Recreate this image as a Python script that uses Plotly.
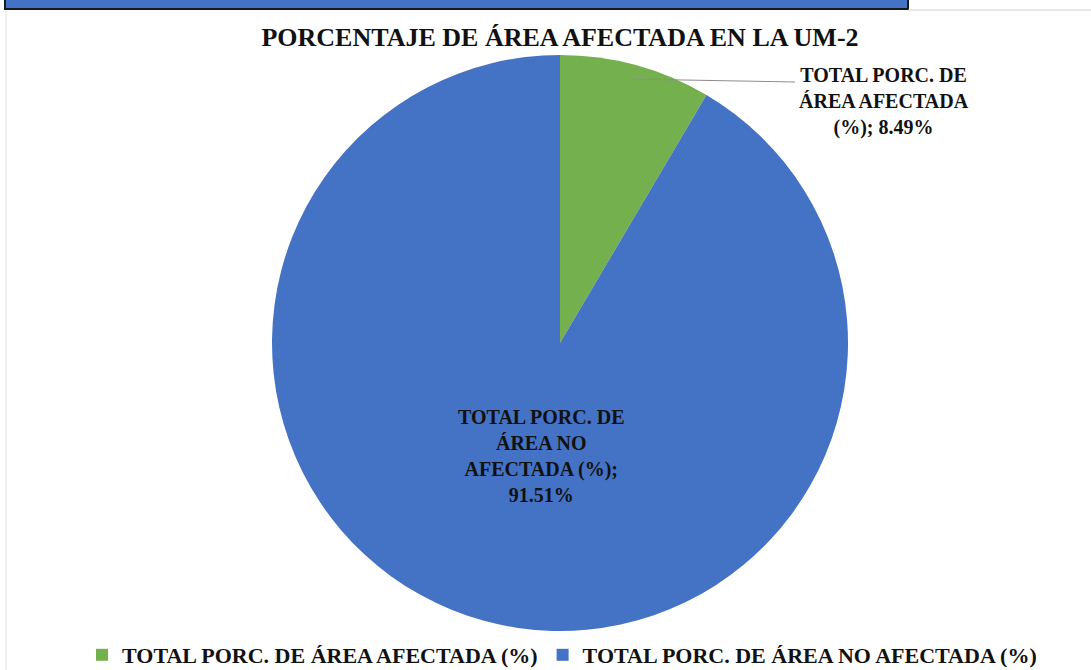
import math

import plotly.graph_objects as go

# data
labels = ["TOTAL PORC. DE ÁREA AFECTADA (%)", "TOTAL PORC. DE ÁREA NO AFECTADA (%)"]
values = [8.49, 91.51]
colors = ["#75B04F", "#4472C4"]
label_lines = [
    ["TOTAL PORC. DE", "ÁREA AFECTADA", "(%); {v:.2f}%"],
    ["TOTAL PORC. DE", "ÁREA NO", "AFECTADA (%);", "{v:.2f}%"],
]

W, H = 1091, 670
cx, cy, r = 560, 343, 288  # pie centre / radius in pixels

serif = "Liberation Serif"


def px(x):
    return x / W


def py(y):
    return 1 - y / H


fig = go.Figure()
fig.add_trace(go.Pie(
    labels=labels,
    values=values,
    sort=False,
    direction="clockwise",
    rotation=0,
    marker=dict(colors=colors, line=dict(width=0)),
    textinfo="none",
    hoverinfo="label+percent",
    domain=dict(x=[px(cx - r), px(cx + r)], y=[py(cy + r), py(cy - r)]),
))

# data labels
texts = ["<br>".join(lines).format(v=v) for lines, v in zip(label_lines, values)]
label_pos = [(884, 101), (541, 456)]
for t, (lx, ly) in zip(texts, label_pos):
    fig.add_annotation(
        x=px(lx), y=py(ly), xref="paper", yref="paper",
        xanchor="center", yanchor="middle",
        text=t, showarrow=False, align="center",
        font=dict(family=serif, size=20, color="#111111", weight="bold"),
    )

# leader line for the small slice
mid = values[0] / sum(values) * math.pi
tip_x = cx + 0.95 * r * math.sin(mid)
tip_y = cy - 0.95 * r * math.cos(mid)
fig.add_shape(type="line", xref="paper", yref="paper",
              x0=px(tip_x), y0=py(tip_y), x1=px(795), y1=py(82),
              line=dict(color="#8C8C8C", width=1))

# cropped header bar from the page above
fig.add_shape(type="rect", xref="paper", yref="paper",
              x0=px(5), x1=px(908), y0=py(9), y1=1.01,
              fillcolor="#4472C4", line=dict(color="#1A1A1A", width=2))
fig.add_shape(type="line", xref="paper", yref="paper",
              x0=px(908), x1=1, y0=py(10), y1=py(10),
              line=dict(color="#D0D0D0", width=1))
fig.add_shape(type="line", xref="paper", yref="paper",
              x0=px(6), x1=px(6), y0=py(10), y1=0,
              line=dict(color="#E2E2E2", width=1))

fig.update_layout(
    width=W, height=H,
    margin=dict(l=0, r=0, t=0, b=0, autoexpand=False),
    paper_bgcolor="white",
    plot_bgcolor="white",
    font=dict(family=serif, weight="bold"),
    title=dict(
        text="<b>PORCENTAJE DE ÁREA AFECTADA EN LA UM-2</b>",
        x=px(560), xanchor="center", y=py(37), yanchor="middle",
        font=dict(family=serif, size=26, color="#111111"),
    ),
    legend=dict(
        orientation="h", x=px(562), xanchor="center", y=py(655), yanchor="middle",
        font=dict(family=serif, size=22, color="#111111", weight="bold"),
        itemwidth=30,
    ),
    showlegend=True,
)

fig.write_html(
    "out.html",
    config={"displayModeBar": False},
    post_script="document.body.style.margin='0';document.body.style.overflow='hidden';",
)
